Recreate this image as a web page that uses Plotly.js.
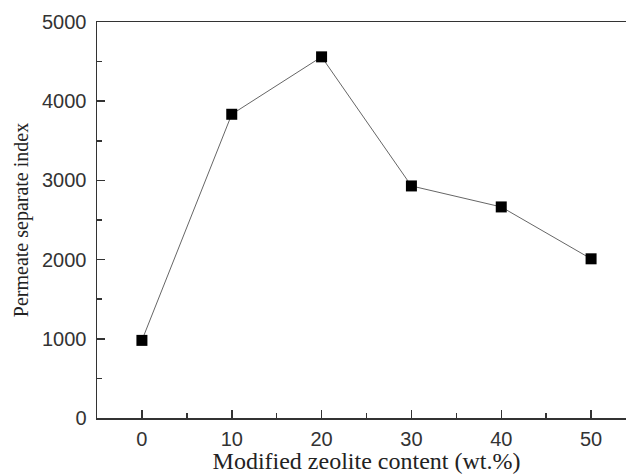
<!DOCTYPE html>
<html>
<head>
<meta charset="utf-8">
<script src="https://cdn.plot.ly/plotly-3.0.1.min.js"></script>
<style>
html,body{margin:0;padding:0;overflow:hidden;background:#fff;}
#chart{width:636px;height:474px;}
</style>
</head>
<body>
<div id="chart"></div>
<script>
const zeoliteContent = [0, 10, 20, 30, 40, 50];
const separateIndex = [980, 3835, 4560, 2930, 2665, 2010];
const xTickVals = [0, 10, 20, 30, 40, 50];
const yTickVals = [0, 1000, 2000, 3000, 4000, 5000];

const trace = {
  x: zeoliteContent,
  y: separateIndex,
  type: 'scatter',
  mode: 'lines+markers',
  line: {color: '#666', width: 1},
  marker: {symbol: 'square', size: 11, color: '#000', line: {width: 0}},
  showlegend: false
};

const tickFont = {family: 'Liberation Sans, Arial, sans-serif', size: 20, color: '#333'};
const titleFontFamily = 'Liberation Serif, Times New Roman, serif';

const layout = {
  width: 636,
  height: 474,
  margin: {l: 97, r: 0, t: 22, b: 56},
  paper_bgcolor: '#fff',
  plot_bgcolor: '#fff',
  xaxis: {
    range: [-5, 55],
    tickvals: xTickVals,
    ticks: 'inside',
    ticklen: 8,
    tickwidth: 1.5,
    tickcolor: '#333',
    ticklabelstandoff: 2,
    minor: {dtick: 5, ticks: 'inside', ticklen: 5, tickwidth: 1.5, tickcolor: '#333'},
    showline: true,
    linecolor: '#333',
    linewidth: 1.5,
    mirror: true,
    showgrid: false,
    zeroline: false,
    tickfont: tickFont,
    title: {text: 'Modified zeolite content (wt.%)', font: {family: titleFontFamily, size: 24, color: '#222'}, standoff: 9}
  },
  yaxis: {
    range: [0, 5000],
    tickvals: yTickVals,
    ticks: 'inside',
    ticklen: 8,
    tickwidth: 1.5,
    tickcolor: '#333',
    ticklabelstandoff: 5,
    minor: {dtick: 500, ticks: 'inside', ticklen: 5, tickwidth: 1.5, tickcolor: '#333'},
    showline: true,
    linecolor: '#333',
    linewidth: 1.5,
    mirror: false,
    showgrid: false,
    zeroline: false,
    tickfont: tickFont,
    title: {text: 'Permeate separate index', font: {family: titleFontFamily, size: 20, color: '#222'}, standoff: 8}
  }
};

Plotly.newPlot('chart', [trace], layout, {displayModeBar: false, staticPlot: true});
</script>
</body>
</html>
